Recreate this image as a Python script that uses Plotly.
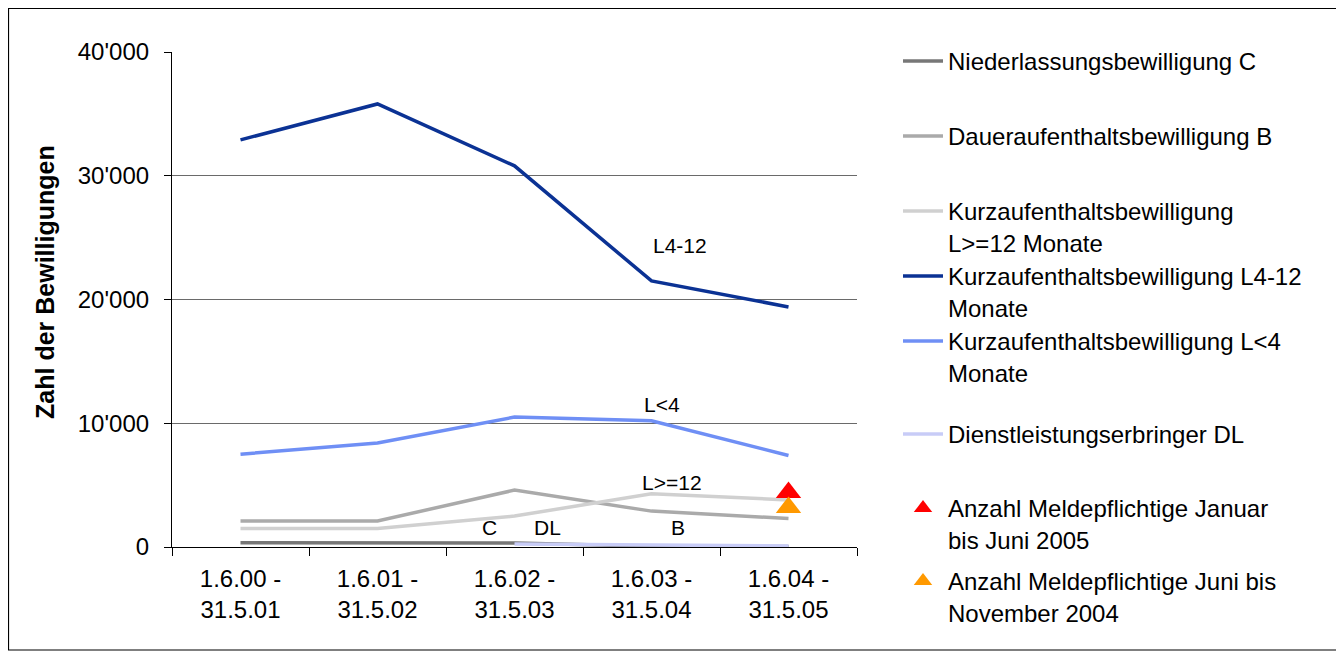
import plotly.graph_objects as go

categories = ["1.6.00 -<br>31.5.01", "1.6.01 -<br>31.5.02", "1.6.02 -<br>31.5.03",
              "1.6.03 -<br>31.5.04", "1.6.04 -<br>31.5.05"]
niederlassung_c = [350, 350, 330, 60, 40]
dauer_b = [2100, 2100, 4600, 2900, 2300]
kurz_l12 = [1500, 1500, 2500, 4300, 3800]
kurz_l4_12 = [32900, 35800, 30800, 21500, 19400]
kurz_l4 = [7500, 8400, 10500, 10200, 7400]
dienst_dl = [None, None, 250, 150, 80]
melde_jan_jun_2005 = [4400]
melde_jun_nov_2004 = [3200]
marker_category = [categories[4]]

series_names = ["Niederlassungsbewilligung C", "Daueraufenthaltsbewilligung B",
                "Kurzaufenthaltsbewilligung<br>L>=12 Monate",
                "Kurzaufenthaltsbewilligung L4-12<br>Monate",
                "Kurzaufenthaltsbewilligung L<4<br>Monate",
                "Dienstleistungserbringer DL"]
marker_names = ["Anzahl Meldepflichtige Januar<br>bis Juni 2005",
                "Anzahl Meldepflichtige Juni bis<br>November 2004"]
series_values = [niederlassung_c, dauer_b, kurz_l12, kurz_l4_12, kurz_l4, dienst_dl]
series_colors = ["#777777", "#AAAAAA", "#D0D0D0", "#0B3294", "#6F8FF5", "#C8CCF7"]

FONT = "Liberation Sans, Arial, sans-serif"
OFF = 8  # page body margin
W, H = 1344 - OFF, 658 - OFF
PL, PR, PT, PB = 172 - OFF, 857 - OFF, 52 - OFF, 547 - OFF

def px_x(x):
    return (x - OFF - PL) / (PR - PL)

def px_y(y):
    return (PB - (y - OFF)) / (PB - PT)

fig = go.Figure()
legend_tops = [60, 135, 210, 275, 340, 433, 507, 580]
for i, (name, vals, col) in enumerate(zip(series_names, series_values, series_colors)):
    fig.add_trace(go.Scatter(x=categories, y=vals, mode="lines", name=name,
                             line=dict(color=col, width=3.5),
                             legend="legend" if i == 0 else f"legend{i+1}"))
for j, (name, vals, col) in enumerate(zip(marker_names,
                                          [melde_jan_jun_2005, melde_jun_nov_2004],
                                          ["#FF0000", "#FF9900"])):
    k = 7 + j
    fig.add_trace(go.Scatter(x=marker_category, y=vals, mode="markers", name=name,
                             marker=dict(symbol="triangle-up", size=22, color=col),
                             legend=f"legend{k}"))

legend_layout = {}
for i, top in enumerate(legend_tops):
    key = "legend" if i == 0 else f"legend{i+1}"
    legend_layout[key] = dict(x=px_x(898), y=px_y(top - 21), xanchor="left", yanchor="top",
                              bgcolor="rgba(0,0,0,0)", valign="top", itemwidth=40,
                              font=dict(family=FONT, size=24, color="black"),
                              tracegroupgap=0)

annotations = [
    dict(x=3.21, y=24400, text="L4-12"),
    dict(x=3.08, y=11500, text="L<4"),
    dict(x=3.15, y=5250, text="L>=12"),
    dict(x=1.82, y=1550, text="C"),
    dict(x=2.24, y=1550, text="DL"),
    dict(x=3.19, y=1550, text="B"),
]
for a in annotations:
    a.update(xref="x", yref="y", showarrow=False,
             font=dict(family=FONT, size=21, color="black"))

fig.update_layout(
    width=W, height=H,
    margin=dict(l=PL, r=W - PR, t=PT, b=H - PB),
    paper_bgcolor="white", plot_bgcolor="white",
    font=dict(family=FONT, size=24, color="black"),
    showlegend=True,
    annotations=annotations,
    shapes=[dict(type="rect", xref="paper", yref="paper",
                 x0=(0.5 - PL) / (PR - PL), x1=px_x(1337), y0=px_y(650), y1=(PB - 0.5) / (PB - PT),
                 line=dict(color="black", width=1.2), fillcolor="rgba(0,0,0,0)")],
    **legend_layout,
)
fig.update_xaxes(type="category", range=[-0.5, 4.5], showline=True, linecolor="black",
                 linewidth=1.2, ticks="outside", tickson="boundaries", ticklen=8,
                 tickcolor="black", showgrid=False, zeroline=False, ticklabelstandoff=10,
                 tickfont=dict(family=FONT, size=24))
fig.update_yaxes(range=[0, 40000], tickvals=[0, 10000, 20000, 30000, 40000],
                 ticktext=["0", "10'000", "20'000", "30'000", "40'000"],
                 showline=True, linecolor="black", linewidth=1.2, ticks="outside",
                 ticklen=7, tickcolor="black", showgrid=True, gridcolor="#6A6A6A",
                 gridwidth=1, zeroline=False, ticklabelstandoff=10,
                 tickfont=dict(family=FONT, size=24),
                 title=dict(text="<b>\u00a0\u00a0\u00a0\u00a0\u00a0Zahl der Bewilligungen</b>",
                            standoff=16, font=dict(family=FONT, size=25)))

fig.write_html("out.html")
